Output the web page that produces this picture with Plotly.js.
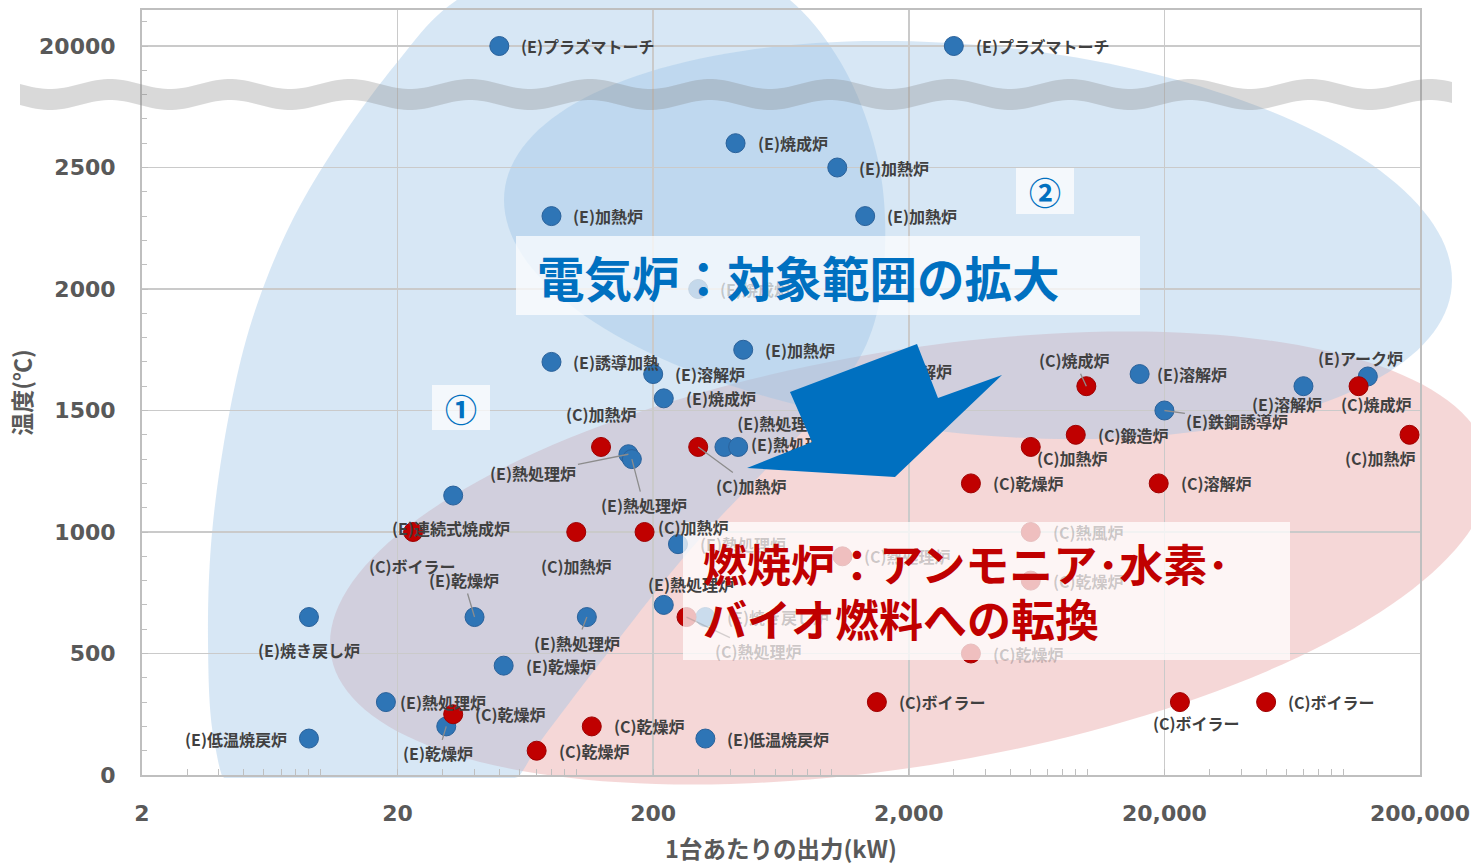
<!DOCTYPE html>
<html><head><meta charset="utf-8">
<script src="https://cdn.plot.ly/plotly-3.0.1.min.js"></script>
<style>html,body{margin:0;padding:0;background:#fff}#chart{width:1471px;height:865px}</style>
</head><body><div id="chart"></div>
<script>
// ---------- DATA ----------
const eNames = ['プラズマトーチ','プラズマトーチ','焼成炉','加熱炉','加熱炉','加熱炉','焼成炉','加熱炉','誘導加熱','溶解炉','焼成炉',
  '熱処理炉','熱処理炉','熱処理炉','熱処理炉','溶解炉','鉄鋼誘導炉','溶解炉','溶解炉','アーク炉','熱処理炉','熱処理炉',
  '焼き戻し炉','焼き戻し炉','乾燥炉','熱処理炉','連続式焼成炉','乾燥炉','熱処理炉','乾燥炉','低温焼戻炉','低温焼戻炉'];
const eX = [50,3000,420,1050,80,1350,300,450,80,200,220,160,165,380,430,1400,20000,16000,70000,125000,250,220,320,9,40,110,33,52,18,31,320,9];
const eY = [20000,20000,2600,2500,2300,2300,2000,1750,1700,1650,1550,1320,1300,1350,1350,1650,1500,1650,1600,1640,950,700,650,650,650,650,1150,450,300,200,150,150];

const cNames = ['加熱炉','加熱炉','焼成炉','鍛造炉','加熱炉','乾燥炉','溶解炉','焼成炉','加熱炉','熱風炉','乾燥炉','乾燥炉',
  '熱処理炉','加熱炉','加熱炉','ボイラー','熱処理炉','乾燥炉','乾燥炉','乾燥炉','ボイラー','ボイラー','ボイラー'];
const cX = [125,300,9900,9000,6000,3500,19000,115000,182000,6000,6000,3500,1100,185,100,23,270,33,115,70,1500,23000,50000];
const cY = [1350,1350,1600,1400,1350,1200,1200,1600,1400,1000,800,500,900,1000,1000,1000,650,250,200,100,300,300,300];

const xTickVals = [2,20,200,2000,20000,200000];
const xTickText = ['2','20','200','2,000','20,000','200,000'];
const yTickVals = [0,500,1000,1500,2000,2500,3000];
const yTickText = ['0','500','1000','1500','2000','2500','20000'];

// ---------- STYLE / PLACEMENT ----------
const ePlace = ['r','r','r','r','r','r','r','r','r','r','r','k:-95,19','k:12,46','s:top right','s:middle right','s:middle right',
  'k:73,10','r:15,0','c:-16,18','c:-7,-18','r','c:27,-21','r','c:0,33','k:-11,-37','k:-10,26','c:-2,32','r','r:12,0','k:-8,27','r','l'];
const eFaded = [6,20,22];
const cPlace = ['c:0,-33','k:53,39','k:-12,-26','r','c:42,11','r','r','c:18,18','c:-29,23','r','r','r','r','r:11,-5','c:0,34','c:-1,34',
  'k:72,34','r','r','r','r','c:17,21','r'];
const cFaded = [9,10,11,12,16];

const BREAK = 3000;
const toAxisY = v => (v > BREAK ? BREAK : v);

const JP = '"Noto Sans CJK JP", "Noto Sans", sans-serif';
const LBL = {family: JP, size: 16, color: '#404040', weight: 700};

// plot area in pixels
const L = 142, T = 10, PW = 1278, PH = 765;
const P = (x, y) => [(x - L) / PW, (T + PH - y) / PH];
function pathFrom(pts, maxY) {
  return 'M' + pts.map(p => { const q = P(p[0], maxY !== undefined ? Math.min(p[1], maxY) : p[1]);
    return q[0].toFixed(5) + ',' + q[1].toFixed(5); }).join('L') + 'Z';
}
function ellAff(cx, cy, ux, uy, vx, vy, maxY) {
  const pts = [];
  for (let i = 0; i < 180; i++) { const t = 2 * Math.PI * i / 180;
    pts.push([cx + ux * Math.cos(t) + vx * Math.sin(t), cy + uy * Math.cos(t) + vy * Math.sin(t)]); }
  return pathFrom(pts, maxY);
}
// closed Catmull-Rom outline through guide points
function blob(g, maxY) {
  const pts = [], n = g.length;
  for (let i = 0; i < n; i++) {
    const p0 = g[(i - 1 + n) % n], p1 = g[i], p2 = g[(i + 1) % n], p3 = g[(i + 2) % n];
    for (let s = 0; s < 10; s++) { const t = s / 10, t2 = t * t, t3 = t2 * t;
      const f = k => 0.5 * ((2 * p1[k]) + (-p0[k] + p2[k]) * t + (2 * p0[k] - 5 * p1[k] + 4 * p2[k] - p3[k]) * t2 + (-p0[k] + 3 * p1[k] - 3 * p2[k] + p3[k]) * t3);
      pts.push([f(0), f(1)]); }
  }
  return pathFrom(pts, maxY);
}
function wave() {
  const top = [], bot = [];
  for (let x = 20; x <= 1452; x += 4) {
    const s = 5 * Math.sin(2 * Math.PI * (x - 20) / 120);
    top.push([x, 84 + s]); bot.unshift([x, 105 + s]);
  }
  return pathFrom(top.concat(bot));
}
const zoneA = [[450,5],[530,-35],[630,-50],[720,-35],[790,0],[845,70],[878,160],[885,250],[872,330],[835,395],[770,465],
  [690,550],[610,650],[545,735],[505,790],[430,815],[330,815],[240,800],[214,740],[208,640],[212,533],[228,420],
  [252,320],[290,225],[340,140],[395,65]];

const shapes = [
  {type: 'path', xref: 'paper', yref: 'paper', layer: 'below', path: ellAff(910, 558, 580, -85, 0, 210),
   fillcolor: 'rgba(232,160,160,0.42)', line: {width: 0}},
  {type: 'path', xref: 'paper', yref: 'paper', layer: 'below', path: blob(zoneA, 778),
   fillcolor: 'rgba(155,194,230,0.40)', line: {width: 0}},
  {type: 'path', xref: 'paper', yref: 'paper', layer: 'below', path: ellAff(978, 240, 474, 40, 0, 195),
   fillcolor: 'rgba(155,194,230,0.40)', line: {width: 0}},
  {type: 'path', xref: 'paper', yref: 'paper', layer: 'above', path: wave(),
   fillcolor: 'rgba(130,130,130,0.30)', line: {width: 0}},
  {type: 'path', xref: 'paper', yref: 'paper', layer: 'above',
   path: pathFrom([[790,392],[917,344],[938,398],[1002,375],[895,477],[747,468],[812,442]]),
   fillcolor: '#0070C0', line: {width: 0}},
  {type: 'path', xref: 'paper', yref: 'paper', layer: 'above', path: pathFrom([[516,236],[1140,236],[1140,315],[516,315]]),
   fillcolor: 'rgba(255,255,255,0.72)', line: {width: 0}},
  {type: 'path', xref: 'paper', yref: 'paper', layer: 'above', path: pathFrom([[683,522],[1290,522],[1290,660],[683,660]]),
   fillcolor: 'rgba(255,255,255,0.75)', line: {width: 0}},
  {type: 'path', xref: 'paper', yref: 'paper', layer: 'above', path: pathFrom([[432,385],[490,385],[490,430],[432,430]]),
   fillcolor: 'rgba(255,255,255,0.72)', line: {width: 0}},
  {type: 'path', xref: 'paper', yref: 'paper', layer: 'above', path: pathFrom([[1016,168],[1074,168],[1074,214],[1016,214]]),
   fillcolor: 'rgba(255,255,255,0.72)', line: {width: 0}}
];

const annotations = [];
const sText = {E: [], C: []}, sPos = {E: [], C: []};
function addLabels(key, names, xs, ys, place, faded) {
  names.forEach((nm, i) => {
    const txt = '(' + key + ')' + nm;
    const p = place[i];
    const code = p.split(':')[0];
    const args = p.indexOf(':') >= 0 ? p.split(':')[1].split(',') : [];
    sText[key].push(''); sPos[key].push('middle right');
    const font = Object.assign({}, LBL, faded.includes(i) ? {color: 'rgba(64,64,64,0.26)'} : {});
    const base = {x: Math.log10(xs[i]), y: toAxisY(ys[i]), xref: 'x', yref: 'y', text: txt, font: font, showarrow: false};
    if (code === 's') { sText[key][i] = txt; sPos[key][i] = args.join(','); return; }
    if (code === 'r') Object.assign(base, {xanchor: 'left', yanchor: 'middle', xshift: args.length ? +args[0] : 20, yshift: args.length ? -args[1] : 0});
    else if (code === 'l') Object.assign(base, {xanchor: 'right', yanchor: 'middle', xshift: -20});
    else if (code === 'c') Object.assign(base, {xanchor: 'center', yanchor: 'middle', xshift: +args[0], yshift: -args[1]});
    else if (code === 'k') Object.assign(base, {showarrow: true, arrowhead: 0, arrowwidth: 1.3,
      arrowcolor: faded.includes(i) ? 'rgba(120,120,120,0.3)' : '#8C8C8C', ax: +args[0], ay: +args[1], axref: 'pixel', ayref: 'pixel', standoff: 0});
    annotations.push(base);
  });
}
addLabels('E', eNames, eX, eY, ePlace, eFaded);
addLabels('C', cNames, cX, cY, cPlace, cFaded);

function paperText(txt, x, y, size, color, anchor) {
  const q = P(x, y);
  annotations.push({xref: 'paper', yref: 'paper', x: q[0], y: q[1], text: txt, showarrow: false,
    xanchor: anchor || 'center', yanchor: 'middle', font: {family: JP, size: size, color: color, weight: 700}});
}
paperText('①', 461, 408, 32, '#0070C0');
paperText('②', 1045, 191, 32, '#0070C0');
paperText('電気炉：対象範囲の拡大', 535, 276, 47.5, '#0070C0', 'left');
paperText('燃焼炉：アンモニア･水素･', 701, 563, 44, '#C00000', 'left');
paperText('バイオ燃料への転換', 701, 618, 44, '#C00000', 'left');

const traces = [
  {type: 'scatter', mode: 'markers+text', x: eX, y: eY.map(toAxisY), text: sText.E, textposition: sPos.E,
   textfont: LBL, cliponaxis: false, hoverinfo: 'skip',
   marker: {size: 19, color: '#2E75B6', line: {width: 1, color: '#2A619A'}}},
  {type: 'scatter', mode: 'markers+text', x: cX, y: cY.map(toAxisY), text: sText.C, textposition: sPos.C,
   textfont: LBL, cliponaxis: false, hoverinfo: 'skip',
   marker: {size: 19, color: '#C00000', line: {width: 1, color: '#9E0000'}}}
];

const tickFont = {family: '"DejaVu Sans", Verdana, sans-serif', size: 22, color: '#595959', weight: 700};
const layout = {
  width: 1471, height: 865, showlegend: false,
  margin: {l: L, r: 1471 - L - PW, t: T, b: 865 - T - PH},
  paper_bgcolor: '#ffffff', plot_bgcolor: 'rgba(0,0,0,0)',
  xaxis: {type: 'log', range: [Math.log10(2), Math.log10(200000)], tickvals: xTickVals, ticktext: xTickText,
    tickfont: tickFont, showgrid: true, gridcolor: '#CACACA', gridwidth: 1.5, zeroline: false,
    showline: true, linecolor: '#BFBFBF', linewidth: 2, mirror: true, ticks: 'inside', ticklen: 6, tickcolor: '#BFBFBF',
    minor: {ticks: 'inside', ticklen: 6, tickcolor: '#BFBFBF', dtick: 'D1', showgrid: false},
    ticklabelstandoff: 18,
    title: {text: '1台あたりの出力(kW)', font: {family: JP, size: 23.5, color: '#595959', weight: 700}, standoff: 16}},
  yaxis: {range: [0, PH / 0.243], tickvals: yTickVals, ticktext: yTickText, tickfont: tickFont,
    showgrid: true, gridcolor: '#CACACA', gridwidth: 1.5, zeroline: false,
    showline: true, linecolor: '#BFBFBF', linewidth: 2, mirror: true, ticks: 'inside', ticklen: 6, tickcolor: '#BFBFBF',
    minor: {ticks: 'inside', ticklen: 5, tickcolor: '#BFBFBF', dtick: 100, showgrid: false},
    ticklabelstandoff: 20,
    title: {text: '温度(℃)', font: {family: JP, size: 23, color: '#595959', weight: 700}, standoff: 1}},
  shapes: shapes, annotations: annotations
};
Plotly.newPlot('chart', traces, layout, {displayModeBar: false, staticPlot: true});
</script></body></html>
